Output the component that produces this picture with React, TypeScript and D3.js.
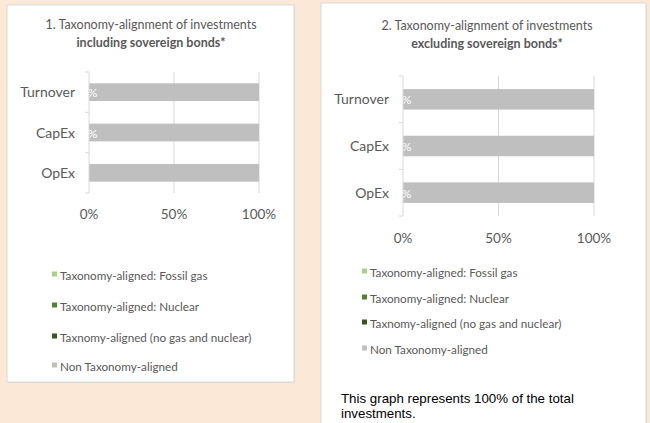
import React, { useEffect, useRef } from 'react';
import * as d3 from 'd3';

const categories = ['Turnover', 'CapEx', 'OpEx'];
const seriesNames = [
  'Taxonomy-aligned: Fossil gas',
  'Taxonomy-aligned: Nuclear',
  'Taxnomy-aligned (no gas and nuclear)',
  'Non Taxonomy-aligned',
];
const seriesColors = ['#A9D18E', '#548235', '#375623', '#BFBFBF'];
const xTicks = [0, 50, 100];

// values per series, per category (Turnover, CapEx, OpEx)
const inclFossil = [0, 0, 0];
const inclNuclear = [0, 0, 0];
const inclAligned = [0, 0, 0];
const inclNon = [100, 100, 100];
const inclLabels = ['0%', '0%', ''];

const exclFossil = [0, 0, 0];
const exclNuclear = [0, 0, 0];
const exclAligned = [0, 0, 0];
const exclNon = [100, 100, 100];
const exclLabels = ['0%', '0%', '0%'];

const FONT = 'Lato, "Open Sans", sans-serif';
const TEXT = '#595959';

type Layout = {
  box: [number, number, number, number];
  titleX: number;
  titleY: number;
  left: number;
  right: number;
  top: number;
  bottom: number;
  tickY: number;
  legendX: number;
  legendY: number[];
};

const drawChart = (
  g: d3.Selection<SVGGElement, unknown, null, undefined>,
  title: string,
  titleBold: string,
  series: number[][],
  labels: string[],
  L: Layout
) => {
  const [bx, by, bw, bh] = L.box;
  g.append('rect')
    .attr('x', bx + 1).attr('y', by + 1).attr('width', bw).attr('height', bh)
    .attr('fill', '#E3DCD5');
  g.append('rect')
    .attr('x', bx).attr('y', by).attr('width', bw).attr('height', bh)
    .attr('fill', '#fff').attr('stroke', '#D9D9D9').attr('stroke-width', 1);

  g.append('text')
    .attr('x', L.titleX).attr('y', L.titleY)
    .attr('text-anchor', 'middle').attr('font-family', FONT).attr('font-size', 12.5)
    .attr('fill', TEXT).text(title);
  g.append('text')
    .attr('x', L.titleX).attr('y', L.titleY + 18)
    .attr('text-anchor', 'middle').attr('font-family', FONT).attr('font-size', 12.5)
    .attr('font-weight', 'bold').attr('fill', TEXT).text(titleBold);

  const x = d3.scaleLinear().domain([0, 100]).range([L.left, L.right]);
  const y = d3.scaleBand<string>().domain(categories).range([L.top, L.bottom])
    .paddingInner(0.56).paddingOuter(0.28);

  // gridlines
  g.selectAll('.grid').data(xTicks.slice(1)).enter().append('line')
    .attr('x1', d => x(d)).attr('x2', d => x(d))
    .attr('y1', L.top).attr('y2', L.bottom)
    .attr('stroke', '#D9D9D9').attr('stroke-width', 1);

  // stacked bars
  const rows = categories.map((c, i) => {
    const r: any = { cat: c };
    seriesNames.forEach((s, j) => { r[s] = series[j][i]; });
    return r;
  });
  const stack = d3.stack<any>().keys(seriesNames)(rows);
  stack.forEach((layer, j) => {
    g.selectAll('.bar' + j).data(layer).enter().append('rect')
      .attr('x', d => x(d[0]))
      .attr('width', d => x(d[1]) - x(d[0]))
      .attr('y', d => y(d.data.cat) as number)
      .attr('height', y.bandwidth())
      .attr('fill', seriesColors[j]);
  });

  // data labels
  g.selectAll('.lbl').data(categories).enter().append('text')
    .attr('x', x(0)).attr('y', d => (y(d) as number) + y.bandwidth() / 2 + 5)
    .attr('text-anchor', 'middle').attr('font-family', FONT).attr('font-size', 12)
    .attr('fill', '#fff').text((d, i) => labels[i]);

  // category axis
  g.append('line')
    .attr('x1', L.left).attr('x2', L.left).attr('y1', L.top).attr('y2', L.bottom)
    .attr('stroke', '#D9D9D9');
  const edges = categories.map(c => y(c) as number - y.step() * y.paddingInner() / 2);
  edges.push(L.bottom);
  g.selectAll('.ctick').data(edges).enter().append('line')
    .attr('x1', L.left - 4).attr('x2', L.left)
    .attr('y1', d => d).attr('y2', d => d)
    .attr('stroke', '#D9D9D9');
  g.selectAll('.clbl').data(categories).enter().append('text')
    .attr('x', L.left - 14).attr('y', d => (y(d) as number) + y.bandwidth() / 2 + 5)
    .attr('text-anchor', 'end').attr('font-family', FONT).attr('font-size', 14)
    .attr('fill', TEXT).text(d => d);

  // value axis labels
  g.selectAll('.xlbl').data(xTicks).enter().append('text')
    .attr('x', d => x(d)).attr('y', L.tickY)
    .attr('text-anchor', 'middle').attr('font-family', FONT).attr('font-size', 13.5)
    .attr('fill', TEXT).text(d => d + '%');

  // legend
  seriesNames.forEach((s, j) => {
    g.append('rect')
      .attr('x', L.legendX).attr('y', L.legendY[j] - 3.5).attr('width', 5).attr('height', 5)
      .attr('fill', seriesColors[j]);
    g.append('text')
      .attr('x', L.legendX + 8).attr('y', L.legendY[j] + 4.5)
      .attr('font-family', FONT).attr('font-size', 11.7).attr('fill', TEXT).text(s);
  });
};

const App = () => {
  const ref = useRef<SVGSVGElement>(null);

  useEffect(() => {
    const svg = d3.select(ref.current);
    svg.selectAll('*').remove();
    svg.append('rect').attr('width', 650).attr('height', 423).attr('fill', '#FBE8D7');

    drawChart(svg.append('g'), '1. Taxonomy-alignment of investments', 'including sovereign bonds*',
      [inclFossil, inclNuclear, inclAligned, inclNon], inclLabels, {
        box: [7, 5, 287, 377], titleX: 151, titleY: 29,
        left: 89, right: 259, top: 72, bottom: 193, tickY: 219,
        legendX: 52, legendY: [275, 306, 337, 366],
      });

    drawChart(svg.append('g'), '2. Taxonomy-alignment of investments', 'excluding sovereign bonds*',
      [exclFossil, exclNuclear, exclAligned, exclNon], exclLabels, {
        box: [321, 3, 325, 425], titleX: 487, titleY: 30,
        left: 403, right: 594, top: 76, bottom: 216, tickY: 243,
        legendX: 362, legendY: [272, 298, 323, 349],
      });

    const note = svg.append('text').attr('font-family', '"Liberation Sans", Arial, sans-serif')
      .attr('font-size', 13.3).attr('fill', '#000');
    note.append('tspan').attr('x', 341).attr('y', 403).text('This graph represents 100% of the total');
    note.append('tspan').attr('x', 341).attr('y', 418).text('investments.');
  }, []);

  return (
    <svg ref={ref} width={650} height={423} style={{ position: 'absolute', left: 0, top: 0 }} />
  );
};

export default App;
